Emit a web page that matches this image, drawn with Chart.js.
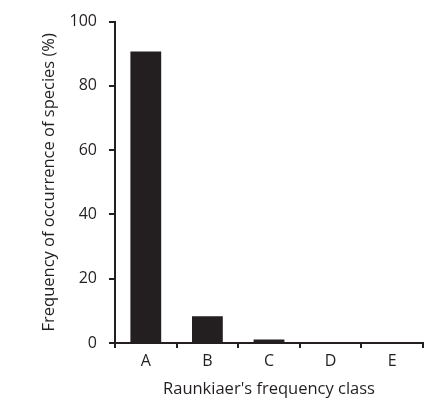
<!DOCTYPE html>
<html lang="en">
<head>
  <meta charset="UTF-8">
  <title>Raunkiaer's frequency class</title>
  <style>
    html, body {
      margin: 0;
      padding: 0;
      background: #ffffff;
    }
    #wrap {
      width: 438px;
      height: 407px;
    }
  </style>
</head>
<body>
  <div id="wrap"><canvas id="myChart" width="438" height="407"></canvas></div>

  <script src="https://cdn.jsdelivr.net/npm/chart.js"></script>
  <script>
    // datos
    var classes = ['A', 'B', 'C', 'D', 'E'];
    var frequency = [90.7, 8.3, 1.1, 0, 0];
    var yTicks = [0, 20, 40, 60, 80, 100];

    var ink = '#231f20';
    var font = "'Open Sans', 'Noto Sans', sans-serif";

    var ctx = document.getElementById('myChart').getContext('2d');
    var myChart = new Chart(ctx, {
      type: 'bar',
      data: {
        labels: classes,
        datasets: [{
          data: frequency,
          backgroundColor: ink,
          borderWidth: 0,
          categoryPercentage: 1,
          barPercentage: 0.5
        }]
      },
      options: {
        responsive: false,
        animation: false,
        events: [],
        layout: {
          padding: { top: 18, right: 15, left: 0, bottom: 0 }
        },
        plugins: {
          legend: { display: false },
          tooltip: { enabled: false }
        },
        scales: {
          x: {
            grid: {
              offset: true,
              drawOnChartArea: false,
              drawTicks: true,
              tickLength: 5,
              color: ink,
              lineWidth: 2
            },
            border: { display: true, color: ink, width: 2 },
            ticks: {
              color: ink,
              padding: 4,
              font: { family: font, size: 16 }
            },
            title: {
              display: true,
              text: "Raunkiaer's frequency class",
              color: ink,
              font: { family: font, size: 16.5 },
              padding: { top: 0, bottom: 8 }
            },
            afterFit: function (scale) {
              scale.height = 64;
            }
          },
          y: {
            min: 0,
            max: 100,
            afterBuildTicks: function (scale) {
              scale.ticks = yTicks.map(function (v) { return { value: v }; });
            },
            grid: {
              drawOnChartArea: false,
              drawTicks: true,
              tickLength: 6,
              color: ink,
              lineWidth: 2
            },
            border: { display: true, color: ink, width: 2 },
            ticks: {
              color: ink,
              padding: 12,
              font: { family: font, size: 16 }
            },
            title: {
              display: true,
              text: 'Frequency of occurrence of species (%)',
              color: ink,
              font: { family: font, size: 16.5 },
              padding: { top: 39, bottom: 0 }
            },
            afterFit: function (scale) {
              scale.width = 115;
            }
          }
        }
      }
    });
  </script>
</body>
</html>
